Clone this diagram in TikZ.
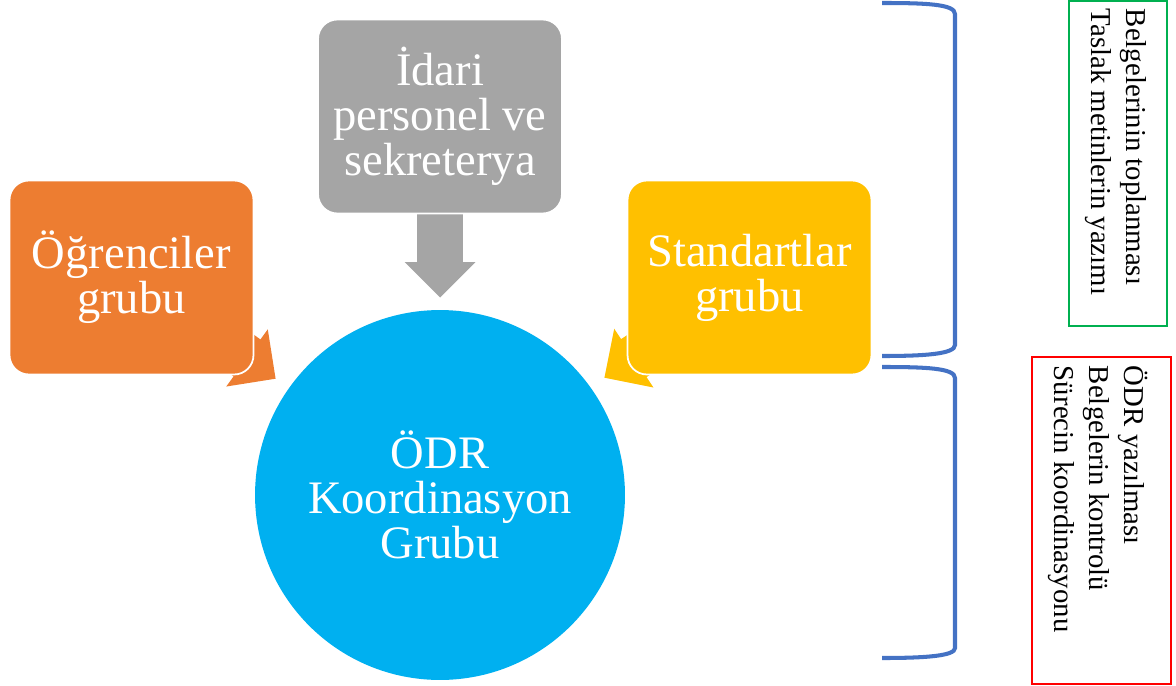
\documentclass[tikz,border=0pt]{standalone}
\usepackage{fontspec}
\setmainfont{Liberation Serif}
\usetikzlibrary{shapes.arrows}

\definecolor{ogrenciOrange}{HTML}{ED7D31}
\definecolor{idariGray}{HTML}{A5A5A5}
\definecolor{standartYellow}{HTML}{FFC000}
\definecolor{odrBlue}{HTML}{00B0F0}
\definecolor{braceBlue}{HTML}{4472C4}
\definecolor{frameGreen}{HTML}{00B050}
\definecolor{frameRed}{HTML}{FF0000}

\tikzset{
    groupbox/.style={rectangle, rounded corners=11pt, draw=white, line width=1pt,
        minimum width=4.88cm, minimum height=3.88cm, inner sep=0pt,
        align=center, text=white, font=\fontsize{26.5}{25.6}\selectfont},
    blockarrow/.style={single arrow, single arrow head extend=0.25cm, anchor=tip,
        minimum height=1.7cm, minimum width=1.4cm, inner xsep=0pt, inner ysep=0.45cm},
    sidebrace/.style={draw=braceBlue, line width=2.3pt},
    sideframe/.style={rectangle, line width=1.6pt, inner sep=0pt},
    sidetext/.style={rotate=-90, anchor=north west, align=left, inner sep=0pt,
        font=\fontsize{16.4}{19.9}\selectfont},
}

\begin{document}
\begin{tikzpicture}[x=0.02cm, y=-0.02cm]
        \useasboundingbox (0,0) rectangle (1176,686);

        % arrows into the circle (behind the boxes)
        \node[blockarrow, fill=idariGray, rotate=-90] (okIdari) at (440,298) {};
        \node[blockarrow, fill=ogrenciOrange, rotate=-36] (okOgrenci) at (276,379) {};
        \node[blockarrow, fill=standartYellow, rotate=-146.3] (okStandart) at (604,378) {};

        % groups
        \node[groupbox, fill=ogrenciOrange] (ogrenci) at (131.5,277.5) {Öğrenciler\\grubu};
        \node[groupbox, fill=idariGray] (idari) at (440,116.5) {İdari\\personel ve\\sekreterya};
        \node[groupbox, fill=standartYellow] (standart) at (749.5,277.5) {Standartlar\\grubu};
        \node[circle, fill=odrBlue, minimum size=7.4cm, inner sep=0pt, align=center,
            text=white, font=\fontsize{26.5}{25.6}\selectfont] (odr) at (440,495)
            {ÖDR\\Koordinasyon\\Grubu};

        % braces
        \draw[sidebrace] (882,3) .. controls (925,3) and (955,4) .. (955,14)
            -- (955,345) .. controls (955,354) and (925,356) .. (882,356);
        \draw[sidebrace] (882,367) .. controls (925,367) and (955,368) .. (955,378)
            -- (955,648) .. controls (955,656) and (925,658) .. (882,658);

        % tasks
        \node[sideframe, draw=frameGreen, minimum width=1.96cm, minimum height=6.5cm]
            (gorevKutu1) at (1118,163.5) {};
        \node[sidetext] (gorevYazi1) at ([xshift=-0.44cm, yshift=-0.18cm]gorevKutu1.north east)
            {Belgelerinin toplanması\\Taslak metinlerin yazımı};
        \node[sideframe, draw=frameRed, minimum width=2.78cm, minimum height=6.54cm]
            (gorevKutu2) at (1101.5,520.5) {};
        \node[sidetext] (gorevYazi2) at ([xshift=-0.48cm, yshift=-0.2cm]gorevKutu2.north east)
            {ÖDR yazılması\\Belgelerin kontrolü\\Sürecin koordinasyonu};
    \end{tikzpicture}
\end{document}
